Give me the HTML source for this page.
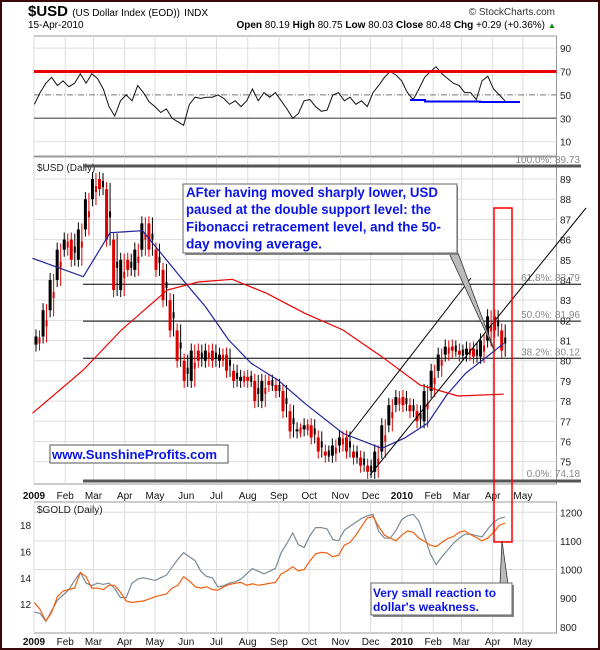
<!DOCTYPE html>
<html><head><meta charset="utf-8"><style>
html,body{margin:0;padding:0;background:#fff}
svg{display:block;font-family:"Liberation Sans",Arial,sans-serif}
</style></head><body>
<svg id="chart" width="600" height="650" viewBox="0 0 600 650" xmlns="http://www.w3.org/2000/svg">
<rect x="1" y="1" width="598" height="648" fill="#fff" stroke="#3a0a0a" stroke-width="2"/>
<g>
<text x="28" y="16" font-size="15" font-weight="bold">$USD <tspan font-size="10" font-weight="normal">(US Dollar Index (EOD))</tspan> <tspan font-size="10" font-weight="normal">INDX</tspan></text>
<text x="555" y="15" font-size="10" text-anchor="end" fill="#333">© StockCharts.com</text>
<text x="28" y="28" font-size="10">15-Apr-2010</text>
<text x="545" y="28" font-size="10" text-anchor="end"><tspan font-weight="bold">Open</tspan> 80.19 <tspan font-weight="bold">High</tspan> 80.75 <tspan font-weight="bold">Low</tspan> 80.03 <tspan font-weight="bold">Close</tspan> 80.48 <tspan font-weight="bold">Chg</tspan> +0.29 (+0.36%)</text>
<text x="548" y="28" font-size="8" fill="#080">▲</text>
</g>
<g id="grid"></g>
<g id="marks"></g>
<g id="overlay"></g>
</svg>
<script>
// ---------- DATA ----------
const monthStartDays = [0,31,59,90,120,151,181,212,243,273,304,334,365,396,424,455,485];
const monthLabels = ["2009","Feb","Mar","Apr","May","Jun","Jul","Aug","Sep","Oct","Nov","Dec","2010","Feb","Mar","Apr","May"];
const usdWeeklyClose = [81.2,82.5,84,85.5, 86,85,86.5,88, 89,88.5,86,83.5, 85,84.5,85.5,86.8, 85.5,84.5,83,81.5,80, 79,80.5,80,80.5, 80,80.3,79.5,79, 79.2,79,78,79,78.8, 78.5,77.5,76.5,76.6, 76.8,76.2,75.5,75.3, 75.8,76.2,75.5,75.2,74.8, 74.5,75.5,76.8,77.8, 78.2,77.8,77.5,77, 78.5,79.5,80.3,80.7, 80.5,80.3,80.6,80.2,81, 82.2,81.5,80.5];
const usdFirstOpen = 80.8;
const ma50Weeks = [-0.5,6.7,10.5,15.1,20.8,24,27.3,30.5,34.3,38.1,43.5,49,52.2,55.5,58.2,60.9,64.2,66.3];
const ma50Values = [85.07,84.16,86.34,86.44,84.0,82.68,81.03,79.87,79.04,77.89,76.4,75.66,76.16,76.9,78.3,79.38,80.28,80.86];
const ma200Weeks = [-0.5,6.7,12.1,18.6,23,27.8,32.7,38.1,43.5,49,54.4,59.8,66.3];
const ma200Values = [77.4,79.54,81.52,83.5,83.9,84.03,83.34,82.35,81.52,80.2,78.8,78.25,78.34];
const priceTicks = [75,76,77,78,79,80,81,82,83,84,85,86,87,88,89];
const fibLevels = [89.73,83.79,81.96,80.12,74.18];
const fibLabels = ["100.0%: 89.73","61.8%: 83.79","50.0%: 81.96","38.2%: 80.12","0.0%: 74.18"];
const rsiTicks = [10,30,50,70,90];
const rsiValues = [42,52,60,65,58,62,57,60,68,60,68,64,55,40,32,45,50,45,58,52,44,40,35,38,30,27,24,42,48,47,48,48,50,47,42,45,40,45,55,45,52,48,52,45,38,30,34,45,46,40,36,37,50,52,45,48,42,45,40,52,58,65,70,67,62,52,46,55,65,70,74,68,64,60,58,52,52,46,62,66,55,50,45];
const goldUsd = [885,860,820,850,905,925,930,935,990,975,935,935,930,945,945,920,890,885,888,890,897,905,910,915,935,945,975,960,940,935,940,930,928,940,948,952,955,945,950,945,948,952,955,985,995,1010,995,1000,1030,1055,1060,1058,1045,1050,1085,1095,1120,1150,1180,1185,1150,1120,1110,1100,1120,1135,1130,1110,1098,1085,1080,1095,1108,1115,1130,1135,1122,1112,1100,1110,1130,1155,1162];
const goldRatio = [11.4,11.3,10.7,11.5,12.3,12.7,13.1,13.8,14.4,13.6,13.4,13.6,13.5,13.6,13.2,12.5,12.5,13.6,13.9,14.0,13.9,13.8,14.0,14.2,14.8,15.4,15.9,15.6,15.3,14.5,14.1,14.0,13.3,13.4,13.6,13.7,13.9,14.3,14.7,14.5,14.3,14.5,14.7,15.9,16.6,17.4,16.5,16.3,17.2,17.8,17.8,17.7,16.9,16.8,17.6,17.9,18.2,18.5,18.7,18.8,17.5,17.0,17.0,17.6,18.4,18.7,18.8,18.3,17.1,15.8,15.0,15.6,16.1,16.6,17.0,17.3,17.3,17.2,17.1,17.7,18.2,18.5,18.6];
const goldLeftTicks = [12,14,16,18];
const goldRightTicks = [800,900,1000,1100,1200];

// ---------- SCALES ----------
const L=34, R=556.5;
const xDay = d => 34 + 1.008*d;
const xWeek = w => xDay(2 + 7*w);
const xIdx = (i,n) => 34.4 + i*(505-34.4)/(n-1);
const yPrice = p => 179 + (89-p)*20.19;
const yRsi = v => 118.3 + (30-v)*1.17;
const yGoldL = v => 525 + (18-v)*13.2;
const yGoldR = v => 512.3 + (1200-v)*0.2862;
const NS="http://www.w3.org/2000/svg";
function mk(parent, tag, attrs, txt){const e=document.createElementNS(NS,tag);for(const k in attrs)e.setAttribute(k,attrs[k]);if(txt!==undefined)e.textContent=txt;parent.appendChild(e);return e;}
const grid=document.getElementById('grid'), marks=document.getElementById('marks'), ov=document.getElementById('overlay');

const panels=[[36,156],[157,484],[502,633]];
panels.forEach((p,k)=>{
  const r=mk(grid,'rect',{x:L,y:p[0],width:R-L,height:p[1]-p[0],fill:'#fff',stroke:'#999','stroke-width':1});
  
  
  monthStartDays.forEach((d,i)=>{
    const v=mk(grid,'line',{x1:xDay(d),x2:xDay(d),y1:p[0],y2:p[1],stroke:'#ddd','stroke-width':1});
    
    
  });
});
[[495],[641]].forEach((yy,k)=>{
  monthLabels.forEach((m,i)=>{
    const t=mk(grid,'text',{x:xDay(monthStartDays[i]),y:yy[0]+4,'font-size':10,'text-anchor':'middle','font-weight':(m.length===4?'bold':'normal'),fill:'#111'},m);
    
    
  });
});

// RSI panel
rsiTicks.forEach(v=>{
  const y=yRsi(v);
  if(v!==30 && v!==50 && v!==70){const g=mk(grid,'line',{x1:L,x2:R,y1:y,y2:y,stroke:'#ddd'});
    
    }
  const t=mk(grid,'text',{x:560,y:y+4,'font-size':10,fill:'#222'},String(v));
  
  
});
let ln=mk(grid,'line',{x1:L,x2:R,y1:yRsi(30),y2:yRsi(30),stroke:'#777','stroke-width':1.5});


ln=mk(grid,'line',{x1:L,x2:R,y1:yRsi(50),y2:yRsi(50),stroke:'#777','stroke-dasharray':'6,2,1,2'});


let pts=rsiValues.map((v,i)=>xIdx(i,rsiValues.length).toFixed(1)+','+yRsi(v).toFixed(1)).join(' ');
let pl=mk(marks,'polyline',{points:pts,fill:'none',stroke:'#111','stroke-width':1});


ln=mk(marks,'line',{x1:L,x2:R,y1:yRsi(70),y2:yRsi(70),stroke:'#e00','stroke-width':3});


ln=mk(marks,'polyline',{points:'410,100 425,100 425,101.5 480,101.5 480,102 520,102',fill:'none',stroke:'#00f','stroke-width':2});



// Price panel
priceTicks.forEach(p=>{
  const y=yPrice(p);
  const g=mk(grid,'line',{x1:L,x2:R,y1:y,y2:y,stroke:'#ddd'});
  
  
  const t=mk(grid,'text',{x:560,y:y+4,'font-size':10,fill:'#222'},String(p));
  
  
});
let tl=mk(grid,'text',{x:37,y:171,'font-size':10,fill:'#222'},'$USD (Daily)');


fibLevels.forEach((f,i)=>{
  const y=yPrice(f);
  const heavy=(i===0||i===fibLevels.length-1);
  const g=mk(marks,'line',{x1:83,x2:581,y1:heavy?(i===0?166:481):y,y2:heavy?(i===0?166:481):y,stroke:heavy?'#555':'#000','stroke-width':heavy?3:1});
  
  
  const ty=heavy?(i===0?163:477):y-3;
  const t=mk(ov,'text',{x:580,y:ty,'font-size':10,'text-anchor':'end',fill:'#888'},fibLabels[i]);
  
  
});
// candles
usdWeeklyClose.forEach((c,i)=>{
  const o=i===0?usdFirstOpen:usdWeeklyClose[i-1];
  const x=xWeek(i);
  const hi=Math.max(o,c)+0.35, lo=Math.min(o,c)-0.35;
  const col=c<o?'#d00':'#000';
  const alt=c<o?'#000':'#d00';
  const w=mk(marks,'line',{x1:x,x2:x,y1:yPrice(hi),y2:yPrice(lo),stroke:col,'stroke-width':1});
  
  
  const mid=(o+c)/2;
  const w2=mk(marks,'line',{x1:x+3.5,x2:x+3.5,y1:yPrice(Math.max(o,c,mid)+0.3),y2:yPrice(Math.min(o,c,mid)-0.3),stroke:alt,'stroke-width':1});
  
  
  const b2=mk(marks,'rect',{x:x+2.5,y:yPrice(mid+0.15),width:2,height:Math.max(1,yPrice(mid-0.15)-yPrice(mid+0.15)),fill:alt});
  
  
  const b=mk(marks,'rect',{x:x-1.5,y:yPrice(Math.max(o,c)),width:3,height:Math.max(1,Math.abs(yPrice(o)-yPrice(c))),fill:col});
  
  
});
pts=ma50Weeks.map((w,i)=>xWeek(w).toFixed(1)+','+yPrice(ma50Values[i]).toFixed(1)).join(' ');
pl=mk(marks,'polyline',{points:pts,fill:'none',stroke:'#22229a','stroke-width':1.2});


pts=ma200Weeks.map((w,i)=>xWeek(w).toFixed(1)+','+yPrice(ma200Values[i]).toFixed(1)).join(' ');
pl=mk(marks,'polyline',{points:pts,fill:'none',stroke:'#e00','stroke-width':1.2});


ln=mk(marks,'line',{x1:348,y1:437,x2:471,y2:278,stroke:'#000','stroke-width':1});


ln=mk(ov,'line',{x1:370,y1:475,x2:586,y2:208,stroke:'#000','stroke-width':1});



// Gold panel
goldRightTicks.forEach(v=>{
  const y=yGoldR(v);
  if(v>=1000){const g=mk(grid,'line',{x1:L,x2:R,y1:y,y2:y,stroke:'#ddd'});
  
  }
  const t=mk(grid,'text',{x:560,y:y+4,'font-size':10,fill:'#222'},String(v));
  
  
});
goldLeftTicks.forEach(v=>{
  const t=mk(grid,'text',{x:20,y:yGoldL(v)+4,'font-size':10,fill:'#222'},String(v));
  
  
});
tl=mk(grid,'text',{x:37,y:513,'font-size':10,fill:'#222'},'$GOLD (Daily)');


pts=goldRatio.map((v,i)=>xIdx(i,goldRatio.length).toFixed(1)+','+yGoldL(v).toFixed(1)).join(' ');
pl=mk(marks,'polyline',{points:pts,fill:'none',stroke:'#7a8a96','stroke-width':1.2});


pts=goldUsd.map((v,i)=>xIdx(i,goldUsd.length).toFixed(1)+','+yGoldR(v).toFixed(1)).join(' ');
pl=mk(marks,'polyline',{points:pts,fill:'none',stroke:'#f06010','stroke-width':1.2});


</script>
<script>
(function(){
const ov=document.getElementById('overlay');const NS="http://www.w3.org/2000/svg";
function mk(tag,a,t){const e=document.createElementNS(NS,tag);for(const k in a)e.setAttribute(k,a[k]);if(t!==undefined)e.textContent=t;ov.appendChild(e);return e;}
let e=mk('rect',{x:494,y:208,width:18,height:334,fill:'none',stroke:'#f00','stroke-width':1.5});


e=mk('polygon',{points:'449,253 458,253 495,352',fill:'#bbb',stroke:'#333','stroke-width':0.8});


e=mk('rect',{x:185,y:186,width:273,height:69,fill:'#888'});


e=mk('rect',{x:183,y:184,width:274,height:69,fill:'#fff',stroke:'#666'});


const lines=[["AFter having moved sharply lower, USD",252],["paused at the double support level: the",245],["Fibonacci retracement level, and the 50-",255],["day moving average.",136]];
lines.forEach((l,i)=>{
  const t=mk('text',{x:186,y:197+i*17.2,'font-size':14,'font-weight':'bold',fill:'#0a14e6',textLength:l[1],lengthAdjust:'spacingAndGlyphs'},l[0]);
  
  
});
e=mk('rect',{x:50,y:445,width:178,height:18,fill:'#fff',stroke:'#555'});


e=mk('text',{x:52,y:459,'font-size':13,'font-weight':'bold',fill:'#0a14e6',textLength:165,lengthAdjust:'spacingAndGlyphs'},'www.SunshineProfits.com');


e=mk('polygon',{points:'500,584 508,584 502,541',fill:'#bbb',stroke:'#333','stroke-width':0.8});


e=mk('rect',{x:373,y:585,width:141,height:32,fill:'#888'});


e=mk('rect',{x:371,y:583,width:141,height:32,fill:'#fff',stroke:'#666'});


e=mk('text',{x:373,y:597,'font-size':12,'font-weight':'bold',fill:'#0a14e6',textLength:123,lengthAdjust:'spacingAndGlyphs'},'Very small reaction to');


e=mk('text',{x:373,y:611,'font-size':12,'font-weight':'bold',fill:'#0a14e6',textLength:106,lengthAdjust:'spacingAndGlyphs'},"dollar's weakness.");


})();
</script>
</body></html>
